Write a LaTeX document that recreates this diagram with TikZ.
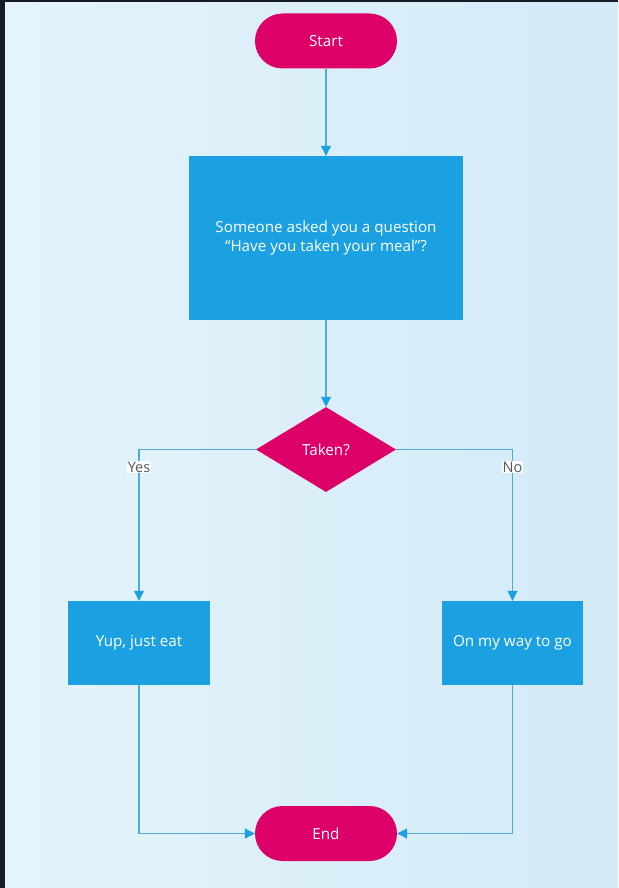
\documentclass[tikz,border=0pt]{standalone}
\usepackage{fontspec}
\setmainfont{Open Sans}
\usetikzlibrary{shapes.geometric,shapes.misc,arrows.meta}
\definecolor{pinkc}{HTML}{DC0068}
\definecolor{bluec}{HTML}{1BA1E2}
\definecolor{linec}{HTML}{4FAAD9}
\definecolor{bgA}{HTML}{E4F4FB}
\definecolor{bgB}{HTML}{D3EAF7}
\definecolor{framec}{HTML}{161B26}
\tikzset{
  px/.style={x=1pt,y=-1pt},
  txt/.style={font=\fontsize{15.2}{19.5}\selectfont},
  term/.style={rounded rectangle, fill=pinkc, minimum width=142pt, minimum height=55pt, text width=60pt, align=center, inner xsep=0pt, text=white, txt},
  proc/.style={rectangle, fill=bluec, text=white, txt, align=center},
  dec/.style={diamond, fill=pinkc, text=white, txt, minimum width=140pt, minimum height=85pt, inner sep=0pt, aspect=1.65},
  conn/.style={draw=linec, line width=1.1pt, -{Triangle[length=10pt,width=10pt,color=bluec]}},
  lbl/.style={fill=white!85!bgA, text=black!65, font=\fontsize{14.5}{16}\selectfont, inner sep=1pt}
}
\begin{document}
\begin{tikzpicture}[px]
\useasboundingbox (0,0) rectangle (618,888);
\fill[framec] (0,0) rectangle (618,888);
\shade[left color=bgA, right color=bgB] (5,3) rectangle (618,888);
\node[term] (start) at (326,41) {Start};
\node[proc, minimum width=274pt, minimum height=164pt] (q) at (326,238) {Someone asked you a question\\“Have you taken your meal”?};
\node[dec] (d) at (326,449.5) {Taken?};
\node[proc, minimum width=142pt, minimum height=84pt] (yes) at (139,643) {Yup, just eat};
\node[proc, minimum width=141pt, minimum height=84pt] (no) at (512.5,643) {On my way to go};
\node[term] (end) at (326,833.5) {End};
\coordinate (yl) at (139,449.5);
\coordinate (nl) at (512.5,449.5);
\coordinate (yb) at (139,833.5);
\coordinate (nb) at (512.5,833.5);
\draw[conn] (start.south) -- (q.north);
\draw[conn] (q.south) -- (d.north);
\draw[conn] (d.west) -- (yl) -- (yes.north);
\draw[conn] (d.east) -- (nl) -- (no.north);
\draw[conn] (yes.south) -- (yb) -- (end.west);
\draw[conn] (no.south) -- (nb) -- (end.east);
\node[lbl] (ylab) at (139,467) {Yes};
\node[lbl] (nlab) at (512.5,467) {No};
\end{tikzpicture}
\end{document}
